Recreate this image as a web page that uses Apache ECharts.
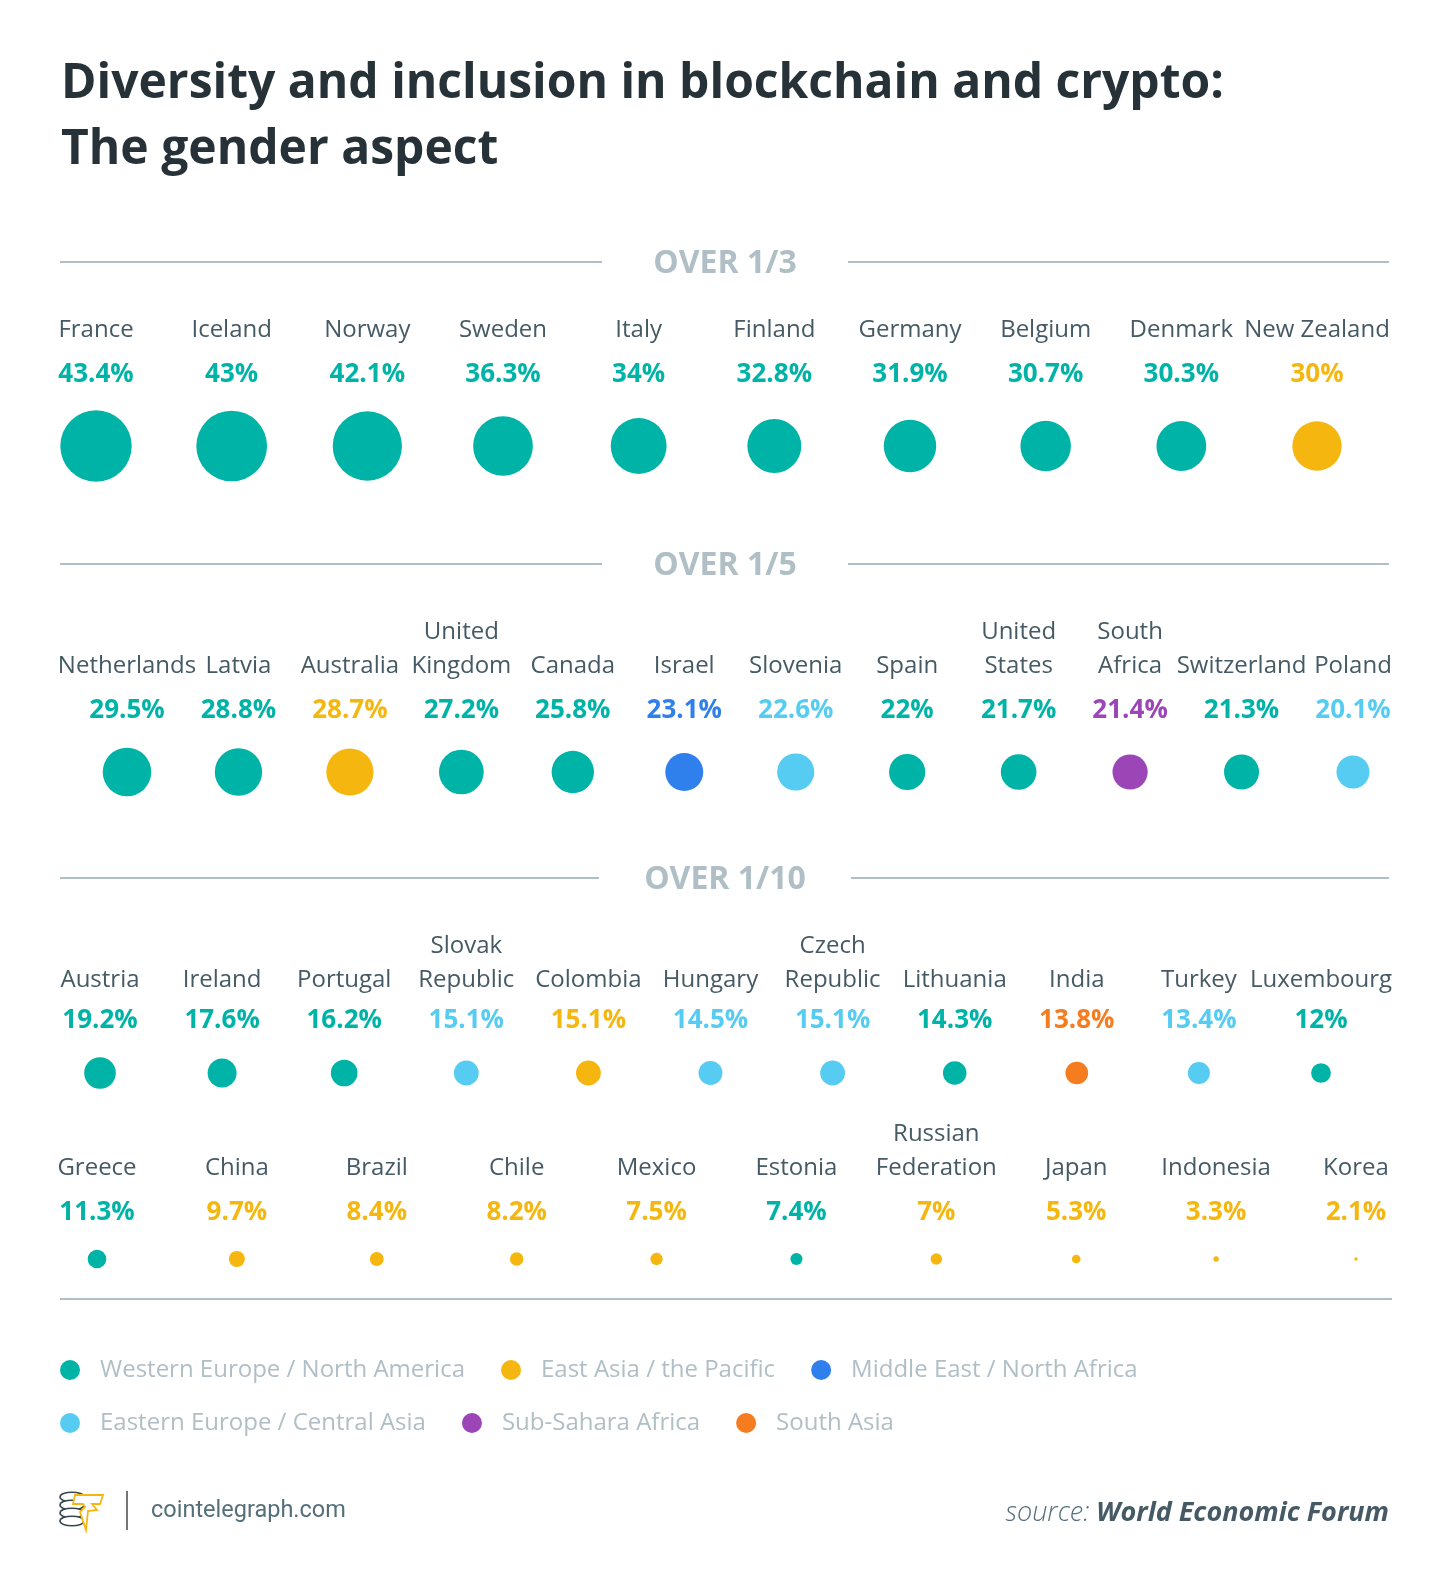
<!DOCTYPE html>
<html>

<head>
    <meta charset="UTF-8">
    <title>Diversity and inclusion in blockchain and crypto</title>
    <script src="https://cdn.jsdelivr.net/npm/echarts@6/dist/echarts.min.js"></script>
    <style>
        html, body { margin: 0; padding: 0; background: #ffffff; overflow: hidden; }
        #chart { width: 1450px; height: 1591px; }
    </style>
</head>

<body>
    <div id="chart"></div>

    <script>
        // share of women, by country (%)
        var over3Names = ['France', 'Iceland', 'Norway', 'Sweden', 'Italy', 'Finland', 'Germany', 'Belgium', 'Denmark', 'New Zealand'];
        var over3Values = [43.4, 43, 42.1, 36.3, 34, 32.8, 31.9, 30.7, 30.3, 30];
        var over3Regions = ['W', 'W', 'W', 'W', 'W', 'W', 'W', 'W', 'W', 'E'];

        var over5Names = ['Netherlands', 'Latvia', 'Australia', 'United\nKingdom', 'Canada', 'Israel', 'Slovenia', 'Spain', 'United\nStates', 'South\nAfrica', 'Switzerland', 'Poland'];
        var over5Values = [29.5, 28.8, 28.7, 27.2, 25.8, 23.1, 22.6, 22, 21.7, 21.4, 21.3, 20.1];
        var over5Regions = ['W', 'W', 'E', 'W', 'W', 'M', 'C', 'W', 'W', 'S', 'W', 'C'];

        var over10aNames = ['Austria', 'Ireland', 'Portugal', 'Slovak\nRepublic', 'Colombia', 'Hungary', 'Czech\nRepublic', 'Lithuania', 'India', 'Turkey', 'Luxembourg'];
        var over10aValues = [19.2, 17.6, 16.2, 15.1, 15.1, 14.5, 15.1, 14.3, 13.8, 13.4, 12];
        var over10aRegions = ['W', 'W', 'W', 'C', 'E', 'C', 'C', 'W', 'A', 'C', 'W'];

        var over10bNames = ['Greece', 'China', 'Brazil', 'Chile', 'Mexico', 'Estonia', 'Russian\nFederation', 'Japan', 'Indonesia', 'Korea'];
        var over10bValues = [11.3, 9.7, 8.4, 8.2, 7.5, 7.4, 7, 5.3, 3.3, 2.1];
        var over10bRegions = ['W', 'E', 'E', 'E', 'E', 'W', 'E', 'E', 'E', 'E'];

        var regionKeys = ['W', 'E', 'M', 'C', 'S', 'A'];
        var regionLabels = ['Western Europe / North America', 'East Asia / the Pacific', 'Middle East / North Africa',
            'Eastern Europe / Central Asia', 'Sub-Sahara Africa', 'South Asia'];
        var regionColors = ['#00b3a7', '#f5b70f', '#2f80ed', '#56ccf2', '#9b45b7', '#f57c1f'];

        var sectionTitles = ['OVER 1/3', 'OVER 1/5', 'OVER 1/10'];

        var rows = [
            { names: over3Names, values: over3Values, regions: over3Regions },
            { names: over5Names, values: over5Values, regions: over5Regions },
            { names: over10aNames, values: over10aValues, regions: over10aRegions },
            { names: over10bNames, values: over10bValues, regions: over10bRegions }
        ];

        // layout of each row: circle centre y, percent y, name y, first / last column x
        var rowLayout = [
            { cy: 446, pct: 375, name: 330, left: 96, last: 1317 },
            { cy: 772, pct: 711, name: 666, left: 127, last: 1353 },
            { cy: 1073, pct: 1021, name: 980, left: 100, last: 1321 },
            { cy: 1259, pct: 1213, name: 1168, left: 97, last: 1356 }
        ];
        var sectionLayout = [
            { y: 262, a: [60, 602], b: [848, 1389] },
            { y: 564, a: [60, 602], b: [848, 1389] },
            { y: 878, a: [60, 599], b: [851, 1389] }
        ];

        var FONT = "'Open Sans', 'Noto Sans', sans-serif";
        var SCALE = 1.645; // circle diameter in px per percentage point

        var rich = {};
        regionKeys.forEach(function (k, i) {
            rich[k] = { color: regionColors[i], fontSize: 26, fontWeight: 'bold', fontFamily: FONT };
        });

        var grids = [], xAxes = [], yAxes = [], series = [];

        rows.forEach(function (row, r) {
            var L = rowLayout[r];
            var axisY = L.cy - 10;
            grids.push({ left: L.left, right: 1450 - L.last, top: axisY, height: 20 });

            // percentages
            xAxes.push({
                type: 'category', gridIndex: r, position: 'top', boundaryGap: false, data: row.names,
                axisLine: { show: false }, axisTick: { show: false }, splitLine: { show: false },
                axisLabel: {
                    interval: 0, hideOverlap: false, margin: axisY - L.pct, verticalAlign: 'middle',
                    formatter: function (v, idx) {
                        return '{' + row.regions[idx] + '|' + row.values[idx] + '%}';
                    },
                    rich: rich
                }
            });
            // country names
            xAxes.push({
                type: 'category', gridIndex: r, position: 'top', boundaryGap: false, data: row.names,
                axisLine: { show: false }, axisTick: { show: false }, splitLine: { show: false },
                axisLabel: {
                    interval: 0, hideOverlap: false, margin: axisY - (L.name + 17), verticalAlign: 'bottom',
                    color: '#455a64', fontSize: 24, lineHeight: 34, fontFamily: FONT, align: 'center'
                }
            });
            yAxes.push({ type: 'value', gridIndex: r, min: -1, max: 1, show: false });

            regionKeys.forEach(function (k, i) {
                var data = [];
                row.names.forEach(function (n, j) {
                    if (row.regions[j] === k) data.push([n, 0, row.values[j]]);
                });
                if (!data.length) return;
                series.push({
                    type: 'scatter', name: regionLabels[i], xAxisIndex: r * 2, yAxisIndex: r,
                    symbol: 'circle',
                    symbolSize: function (val) { return val[2] * SCALE; },
                    itemStyle: { color: regionColors[i], opacity: 1 },
                    emphasis: { disabled: true }, silent: true,
                    data: data
                });
            });
        });

        // headers and separators
        var graphics = [];
        sectionLayout.forEach(function (s, i) {
            graphics.push({ type: 'line', shape: { x1: s.a[0], y1: s.y, x2: s.a[1], y2: s.y }, style: { stroke: '#b0bec5', lineWidth: 2 } });
            graphics.push({ type: 'line', shape: { x1: s.b[0], y1: s.y, x2: s.b[1], y2: s.y }, style: { stroke: '#b0bec5', lineWidth: 2 } });
            graphics.push({
                type: 'text', x: (s.a[1] + s.b[0]) / 2, y: s.y + 2,
                style: { text: sectionTitles[i], fill: '#b0bec5', font: 'bold 32px ' + FONT, textAlign: 'center', textVerticalAlign: 'middle' }
            });
        });
        graphics.push({ type: 'line', shape: { x1: 60, y1: 1299, x2: 1392, y2: 1299 }, style: { stroke: '#b0bec5', lineWidth: 2 } });

        // footer logo
        [1497, 1505, 1513, 1521].forEach(function (y) {
            graphics.push({ type: 'ellipse', shape: { cx: 72, cy: y, rx: 12, ry: 4.8 }, style: { fill: '#ffffff', stroke: '#37474f', lineWidth: 1.6 } });
        });
        graphics.push({
            type: 'polygon',
            shape: { points: [[75, 1495], [103, 1495], [100, 1504], [92, 1504], [97, 1510], [88, 1511], [86, 1530], [80, 1512], [85, 1507], [83, 1504], [73, 1504]] },
            style: { fill: '#ffffff', stroke: '#f5b70f', lineWidth: 1.8 }
        });
        graphics.push({ type: 'line', shape: { x1: 127, y1: 1491, x2: 127, y2: 1530 }, style: { stroke: '#757575', lineWidth: 2 } });
        graphics.push({
            type: 'text', x: 151, y: 1511,
            style: { text: 'cointelegraph.com', fill: '#546e7a', font: '23.5px Roboto, ' + FONT, textVerticalAlign: 'middle' }
        });
        graphics.push({
            type: 'text', x: 1389, y: 1513,
            style: {
                text: '{a|source: }{b|World Economic Forum}', textAlign: 'right', textVerticalAlign: 'middle',
                rich: {
                    a: { fontSize: 27, fontStyle: 'italic', fontWeight: 300, fontFamily: FONT, fill: '#546e7a' },
                    b: { fontSize: 27, fontStyle: 'italic', fontWeight: 'bold', fontFamily: FONT, fill: '#455a64' }
                }
            }
        });

        var legendBase = {
            orient: 'horizontal', left: 55, icon: 'circle', itemWidth: 20, itemHeight: 20, itemGap: 36,
            selectedMode: false,
            textStyle: { color: '#b0bec5', fontSize: 24, fontFamily: FONT, lineHeight: 24, padding: [0, 0, 0, 15] }
        };

        var option = {
            animation: false,
            backgroundColor: '#ffffff',
            textStyle: { fontFamily: FONT },
            color: regionColors,
            title: {
                text: 'Diversity and inclusion in blockchain and crypto:\nThe gender aspect',
                left: 56, top: 46,
                textStyle: { color: '#263238', fontSize: 48, fontWeight: 'bold', lineHeight: 66, fontFamily: FONT }
            },
            legend: [
                Object.assign({}, legendBase, { top: 1353, data: regionLabels.slice(0, 3) }),
                Object.assign({}, legendBase, { top: 1406, data: regionLabels.slice(3) })
            ],
            grid: grids,
            xAxis: xAxes,
            yAxis: yAxes,
            series: series,
            graphic: graphics
        };

        var myChart = echarts.init(document.getElementById('chart'), null, { renderer: 'canvas' });
        myChart.setOption(option);

        window.addEventListener('resize', function () {
            myChart.resize();
        });
    </script>
</body>

</html>
